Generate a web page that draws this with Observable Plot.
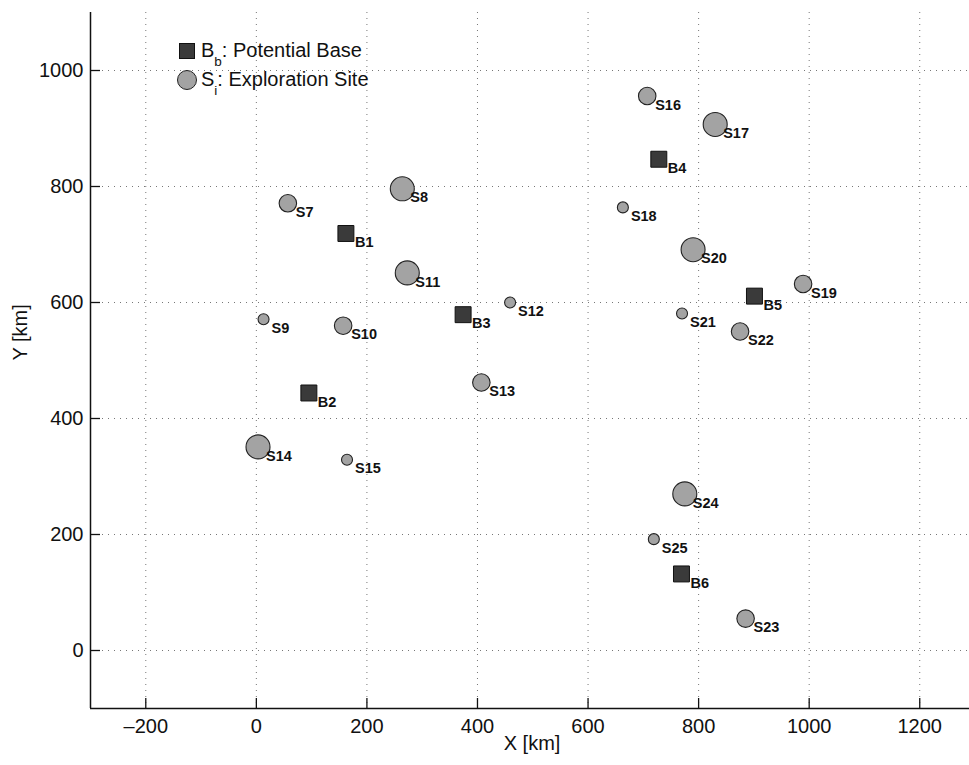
<!DOCTYPE html>
<html>
<head>
<meta charset="utf-8">
<script src="https://cdn.jsdelivr.net/npm/d3@7"></script>
<script src="https://cdn.jsdelivr.net/npm/@observablehq/plot@0.6"></script>
<style>
  html, body { margin: 0; padding: 0; background: white; overflow: hidden; }
  #wrap { position: relative; width: 969px; height: 765px; }
  .leg { position: absolute; font-family: "Liberation Sans", Arial, sans-serif; font-size: 20px; line-height: 20px; color: #111; white-space: nowrap; }
  .leg .sb { font-size: 13.5px; position: relative; top: 9px; }
  .sym { position: absolute; box-sizing: border-box; }
</style>
</head>
<body>
<div id="wrap">
  <div id="chart"></div>
  <div class="sym" style="left:179px; top:43px; width:16px; height:16px; background:#3a3a3a; border:1px solid #111;"></div>
  <div class="sym" style="left:177px; top:70px; width:20px; height:20px; border-radius:50%; background:#a3a3a3; border:1px solid #222;"></div>
  <div class="leg" style="left:201px; top:40px;">B<span class="sb">b</span>: Potential Base</div>
  <div class="leg" style="left:201px; top:69px;">S<span class="sb">i</span>: Exploration Site</div>
</div>
<script>
// Exploration sites
const siteNames = ["S7","S8","S9","S10","S11","S12","S13","S14","S15","S16","S17","S18","S19","S20","S21","S22","S23","S24","S25"];
const siteX     = [57, 264, 13, 157, 273, 459, 407, 3, 164, 707, 830, 663, 989, 790, 770, 875, 885, 775, 719];
const siteY     = [771, 796, 571, 560, 651, 600, 462, 351, 329, 956, 907, 764, 632, 691, 581, 550, 55, 270, 192];
const siteClass = [2, 3, 1, 2, 3, 1, 2, 3, 1, 2, 3, 1, 2, 3, 1, 2, 2, 3, 1];

// Potential bases
const baseNames = ["B1","B2","B3","B4","B5","B6"];
const baseX     = [162, 95, 374, 728, 901, 769];
const baseY     = [719, 444, 579, 847, 611, 132];

// Axes
const xDomain = [-300, 1290];
const yDomain = [-100, 1100];
const xTicks = [-200, 0, 200, 400, 600, 800, 1000, 1200];
const yTicks = [0, 200, 400, 600, 800, 1000];
const xLabel = "X [km]";
const yLabel = "Y [km]";

const sites = siteNames.map((n, i) => ({name: n, x: siteX[i], y: siteY[i], c: siteClass[i]}));
const bases = baseNames.map((n, i) => ({name: n, x: baseX[i], y: baseY[i]}));
const fmt = d => d < 0 ? "\u2013" + Math.abs(d) : String(d);

const chart = Plot.plot({
  width: 969,
  height: 765,
  marginLeft: 90,
  marginRight: 0,
  marginTop: 12,
  marginBottom: 57,
  style: {fontFamily: "Liberation Sans, Arial, sans-serif", fontSize: "20px", color: "#111", background: "white"},
  x: {domain: xDomain, label: null},
  y: {domain: yDomain, label: null},
  r: {type: "linear", domain: [1, 3], range: [5.5, 12]},
  marks: [
    Plot.gridX(xTicks, {stroke: "#777", strokeOpacity: 1, strokeDasharray: "1,5"}),
    Plot.gridY(yTicks, {stroke: "#777", strokeOpacity: 1, strokeDasharray: "1,5"}),
    Plot.ruleX([xDomain[0]], {stroke: "#111", strokeWidth: 1.5}),
    Plot.ruleY([yDomain[0]], {stroke: "#111", strokeWidth: 1.5}),
    // inward tick marks
    Plot.axisX(xTicks, {tickSize: 10, dy: -10, tickFormat: () => "", label: null, strokeWidth: 1.3}),
    Plot.axisY(yTicks, {tickSize: 10, dx: 10, tickFormat: () => "", label: null, strokeWidth: 1.3}),
    // tick labels
    Plot.axisX(xTicks, {tickSize: 0, tickPadding: 10, tickFormat: fmt, label: null, fontSize: 20}),
    Plot.axisY(yTicks, {tickSize: 0, tickPadding: 7, tickFormat: d => String(d), label: null, fontSize: 20}),
    Plot.text([xLabel], {frameAnchor: "bottom", dx: 2, dy: 41, fontSize: 20}),
    Plot.text([yLabel], {frameAnchor: "left", rotate: -90, dx: -70, fontSize: 20}),
    Plot.dot(sites, {x: "x", y: "y", r: "c", fill: "#a3a3a3", stroke: "#222", strokeWidth: 1.1}),
    Plot.dot(bases, {x: "x", y: "y", r: 9, symbol: "square", fill: "#3a3a3a", stroke: "#111", strokeWidth: 1}),
    Plot.text(sites, {x: "x", y: "y", text: "name", dx: 8, dy: 9, textAnchor: "start", fontWeight: "bold", fontSize: 14.5}),
    Plot.text(bases, {x: "x", y: "y", text: "name", dx: 9, dy: 9, textAnchor: "start", fontWeight: "bold", fontSize: 14.5})
  ]
});
document.getElementById("chart").appendChild(chart);
</script>
</body>
</html>
